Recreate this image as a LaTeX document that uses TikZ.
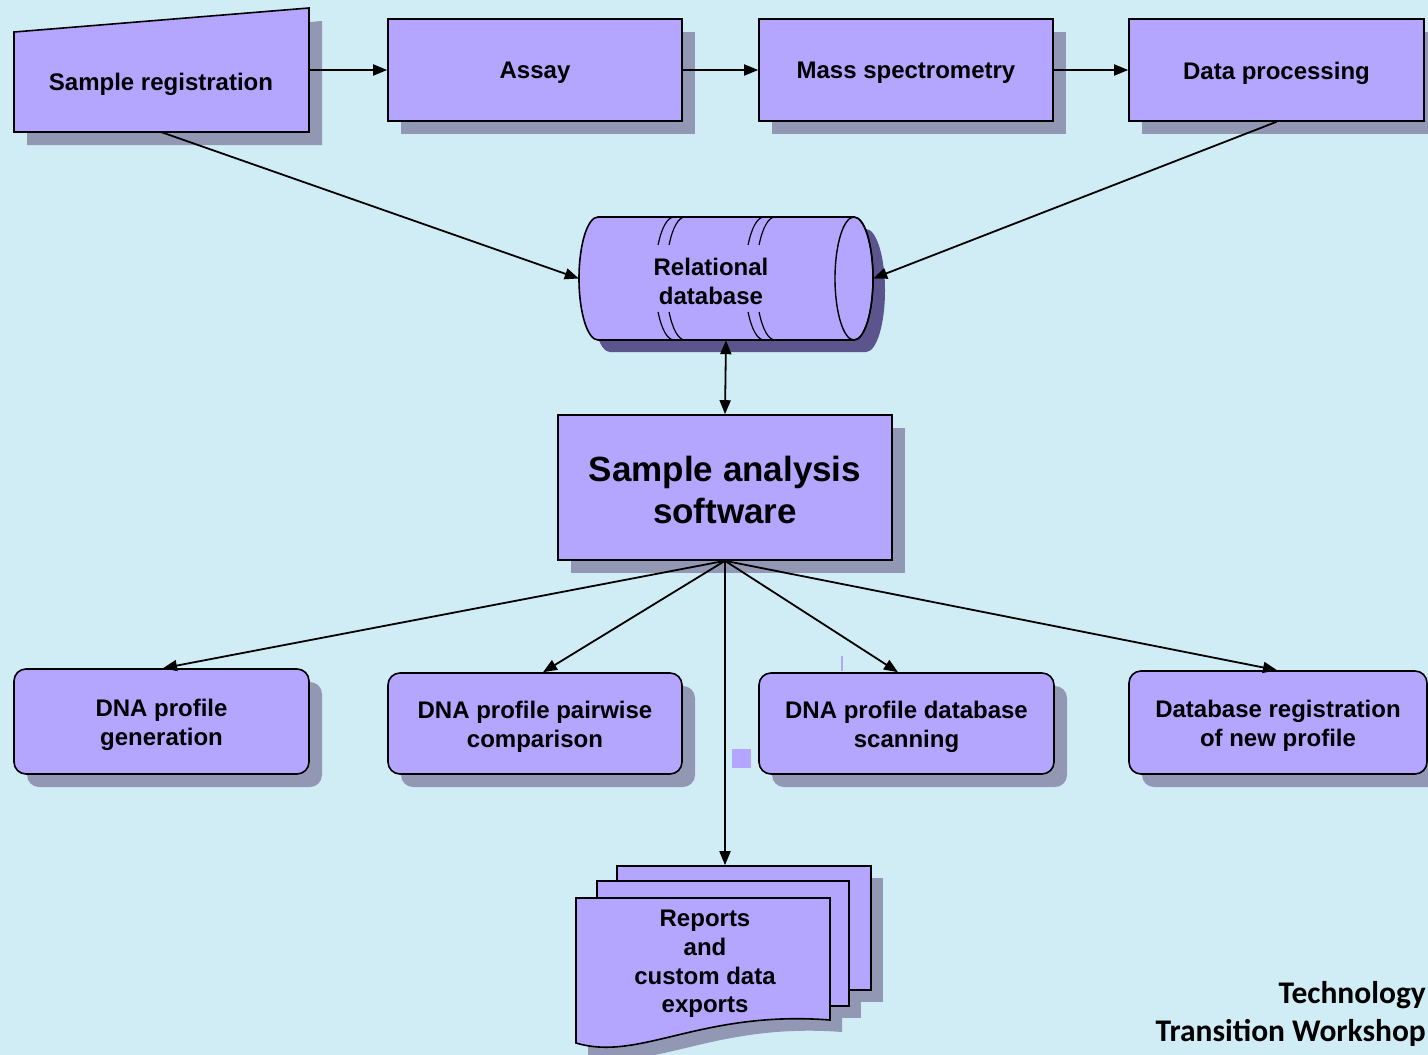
\documentclass[tikz,border=0pt]{standalone}
\usepackage{fontspec}
\setmainfont{Liberation Sans}
\newfontfamily\calib{Carlito}
\usetikzlibrary{shadows,arrows.meta,calc}
\definecolor{bgc}{RGB}{208,236,244}
\definecolor{boxc}{RGB}{180,165,255}
\definecolor{shc}{RGB}{146,152,180}
\definecolor{shd}{RGB}{92,84,140}
\begin{document}
\begin{tikzpicture}[x=1pt,y=-1pt,
  txt/.style={font=\bfseries\fontsize{24}{29}\selectfont, align=center, inner sep=0pt},
  box/.style={draw=black, line width=1.6pt, fill=boxc, inner sep=0pt},
  shbox/.style={box, drop shadow={shadow xshift=13pt, shadow yshift=-13pt, fill=shc, opacity=1}},
  rbox/.style={shbox, rounded corners=12pt},
  intext/.style={label={[txt, yshift=-3pt]center:{#1}}},
  ghost/.style={inner sep=0pt, draw=none},
  figshape/.style={draw=black, line width=1.6pt, fill=boxc},
  arr/.style={line width=1.8pt, -{Triangle[length=14pt,width=11pt]}},
  darr/.style={line width=1.8pt, {Triangle[length=14pt,width=11pt]}-{Triangle[length=14pt,width=11pt]}}
]
\useasboundingbox (0,0) rectangle (1428,1055);
\fill[bgc] (0,0) rectangle (1428,1055);

% Sample registration (manual input)
\fill[shc] (27,45) -- (322,21) -- (322,145) -- (27,145) -- cycle;
\draw[figshape] (14,32) -- (309,8) -- (309,132) -- (14,132) -- cycle;
\node[ghost, minimum width=295pt, minimum height=124pt] (sr) at (161.5,70) {};
\node[txt] (srt) at (161,84) {Sample registration};

% top row
\node[shbox, minimum width=294pt, minimum height=102pt, intext=Assay] (as) at (535,70) {};
\node[shbox, minimum width=294pt, minimum height=102pt, intext=Mass spectrometry] (ms) at (906,70) {};
\node[shbox, minimum width=295pt, minimum height=102pt, intext=Data processing] (dp) at (1276.5,70) {};

% cylinder
\fill[shd] (610,229) -- (866,229) arc[start angle=90, end angle=-90, x radius=19pt, y radius=61.5pt]
  -- (610,352) arc[start angle=270, end angle=90, x radius=19pt, y radius=61.5pt] -- cycle;
\draw[figshape] (598,217) -- (854,217) arc[start angle=90, end angle=-90, x radius=19pt, y radius=61.5pt]
  -- (598,340) arc[start angle=270, end angle=90, x radius=19pt, y radius=61.5pt] -- cycle;
\draw[line width=1.4pt] (854,278.5) ellipse[x radius=19pt, y radius=61.5pt];
\foreach \cx in {674,685,764,775}{
  \draw[line width=1.2pt] (\cx,217) arc[start angle=90, end angle=147, x radius=19pt, y radius=61.5pt];
  \draw[line width=1.2pt] (\cx,340) arc[start angle=270, end angle=213, x radius=19pt, y radius=61.5pt];
}
\node[ghost, minimum width=294pt, minimum height=123pt] (db) at (726,278.5) {};
\node[txt] (dbt) at (711,281) {Relational\\database};

% Sample analysis software
\node[shbox, minimum width=334pt, minimum height=145pt] (sas) at (725,487.5) {};
\node[txt, font=\bfseries\fontsize{35}{42}\selectfont] (sast) at (725,489.5) {Sample analysis\\software};

% bottom row
\node[rbox, minimum width=295pt, minimum height=105pt, intext={DNA profile\\generation}] (gen) at (161.5,721.5) {};
\node[rbox, minimum width=294pt, minimum height=101pt, intext={DNA profile pairwise\\comparison}] (pw) at (535,723.5) {};
\node[rbox, minimum width=295pt, minimum height=101pt, intext={DNA profile database\\scanning}] (sc) at (906.5,723.5) {};
\node[rbox, minimum width=298pt, minimum height=103pt, intext={Database registration\\of new profile}] (reg) at (1278,722.5) {};

% documents
\fill[shc] (629,878) rectangle (883,1002);
\fill[shc] (609,893) rectangle (861,1018);
\fill[shc] (588,910) -- (842,910) -- (842,1032) .. controls (712,1022) and (652,1074) .. (588,1055) -- cycle;
\node[box, minimum width=254pt, minimum height=124pt] (p1) at (744,928) {};
\node[box, minimum width=252pt, minimum height=125pt] (p2) at (723,943.5) {};
\draw[figshape] (576,898) -- (830,898) -- (830,1020) .. controls (700,1010) and (640,1062) .. (576,1043) -- cycle;
\node[txt, font=\bfseries\fontsize{24}{28.7}\selectfont] (rep) at (705,964) {Reports\\and\\custom data\\exports};

% connectors
\draw[arr] (sr.east) -- (as.west);
\draw[arr] (as.east) -- (ms.west);
\draw[arr] (ms.east) -- (dp.west);
\draw[arr] (sr.south) -- (db.west);
\draw[arr] (dp.south) -- (db.east);
\draw[darr] (db.south) -- (sas.north);
\draw[arr] (sas.south) -- ($(gen.north)+(1.5,0)$);
\draw[arr] (sas.south) -- ($(pw.north)+(8,0)$);
\draw[arr] (sas.south) -- ($(sc.north)+(-8.5,0)$);
\draw[arr] (sas.south) -- ($(reg.north)+(-1,0)$);
\draw[arr] (sas.south) -- (p1.north -| sas.south);

% small artefacts
\fill[boxc] (732,749) rectangle (751,768);
\draw[boxc, line width=1.5pt] (842,656) -- (842,671);

% footer
\node[anchor=base east, inner sep=0pt, font=\calib\bfseries\fontsize{31.5}{38}\selectfont] (ft1) at (1426,1003) {Technology};
\node[anchor=base east, inner sep=0pt, font=\calib\bfseries\fontsize{31.5}{38}\selectfont] (ft2) at (1426,1041) {Transition Workshop};
\end{tikzpicture}
\end{document}
